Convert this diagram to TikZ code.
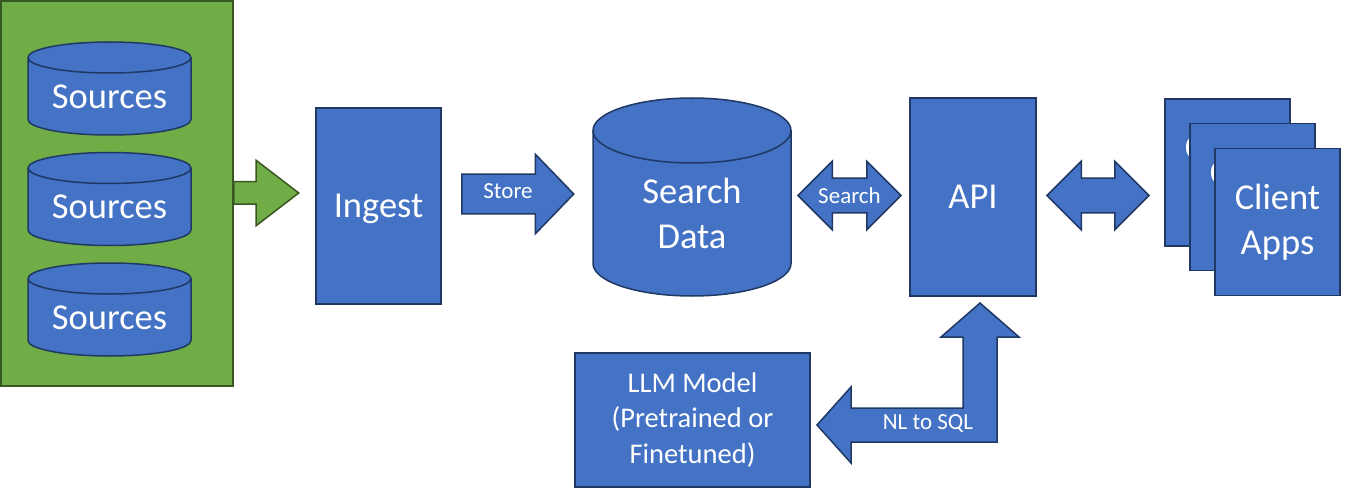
\documentclass[tikz,border=0pt]{standalone}
\usepackage{fontspec}
\setmainfont{Carlito}
\usetikzlibrary{shapes.arrows}
\definecolor{blu}{HTML}{4472C4}
\definecolor{navy}{HTML}{1F3864}
\definecolor{grn}{HTML}{70AD47}
\definecolor{dkgrn}{HTML}{385723}

\begin{document}
\begin{tikzpicture}[x=1pt,y=1pt,
	blk/.style={draw=navy,fill=blu,line width=1.5pt,inner sep=0},
	big/.style={text=white,font=\fontsize{36.5}{45}\selectfont},
	mid/.style={text=white,font=\fontsize{28.5}{35.5}\selectfont},
	small/.style={text=white,font=\fontsize{23}{28}\selectfont},
	sarrow/.style={blk,single arrow,single arrow tip angle=90,inner xsep=0,anchor=tail},
	darrow/.style={blk,double arrow,double arrow tip angle=90,inner xsep=0}]
	\useasboundingbox (0,0) rectangle (1345,491);
	%\draw[help lines,step=50] (0,0) grid (1345,491);
	% sources
	\node[draw=dkgrn,fill=grn,line width=1.5pt,minimum width=232pt,minimum height=385pt] (srcbox) at (117,297.5) {};
	\foreach \i/\yt in {1/433.5,2/323,3/212.5}{
		\draw[blk] (28,\yt-62) arc (180:360:81.5pt and 15.5pt) -- (191,\yt) arc (0:180:81.5pt and 15.5pt) -- cycle;
		\draw[navy,line width=1.5pt] (28,\yt) arc (180:360:81.5pt and 15.5pt);
		\node[big] (src\i) at (109.5,\yt-39) {Sources};
	}
	\node[sarrow,fill=grn,draw=dkgrn,inner ysep=10.5pt,minimum height=65pt,single arrow head extend=21.5pt,single arrow tip angle=75] (feed) at (233,298) {};
	% ingest and store
	\node[blk,big,text depth=0pt,minimum width=125pt,minimum height=196pt] (ingest) at (378.5,285) {Ingest};
	\node[sarrow,inner ysep=19pt,minimum height=112pt,single arrow head extend=20pt,single arrow tip angle=92] (store) at (461,297) {};
	\node[small] at (508,300) {Store};
	\draw[blk] (593,227.5) arc (180:360:99pt and 32.5pt) -- (791,360.5) arc (0:180:99pt and 32.5pt) -- cycle;
	\draw[navy,line width=1.5pt] (593,360.5) arc (180:360:99pt and 32.5pt);
	\node[big,align=center] (data) at (692,278) {Search\\Data};
	% api and clients
	\node[darrow,inner ysep=16.5pt,minimum height=103pt,double arrow head extend=17pt] (srch) at (849.5,295.5) {};
	\node[small] at (srch) {Search};
	\node[blk,big,minimum width=126pt,minimum height=198pt] (api) at (973,294) {API};
	\node[darrow,inner ysep=16.5pt,minimum height=102pt,double arrow head extend=17pt] (apilink) at (1098,295.5) {};
	\foreach \i/\x/\y in {1/1227.5/318.5,2/1252.5/294,3/1277.5/269}
		\node[blk,big,align=center,minimum width=125pt,minimum height=147pt] (app\i) at (\x,\y) {Client\\Apps};
	% model
	\node[blk,mid,align=center,minimum width=235pt,minimum height=134pt] (llm) at (692.5,71) {LLM Model\\(Pretrained or\\Finetuned)};
	\draw[blk] (817,66) -- (851,104) -- (851,83) -- (963,83) -- (963,154) -- (941,154) -- (980,188)
		-- (1019,154) -- (997,154) -- (997,49) -- (851,49) -- (851,28) -- cycle;
	\node[small] (nlsql) at (928,67.5) {NL to SQL};
\end{tikzpicture}
\end{document}
